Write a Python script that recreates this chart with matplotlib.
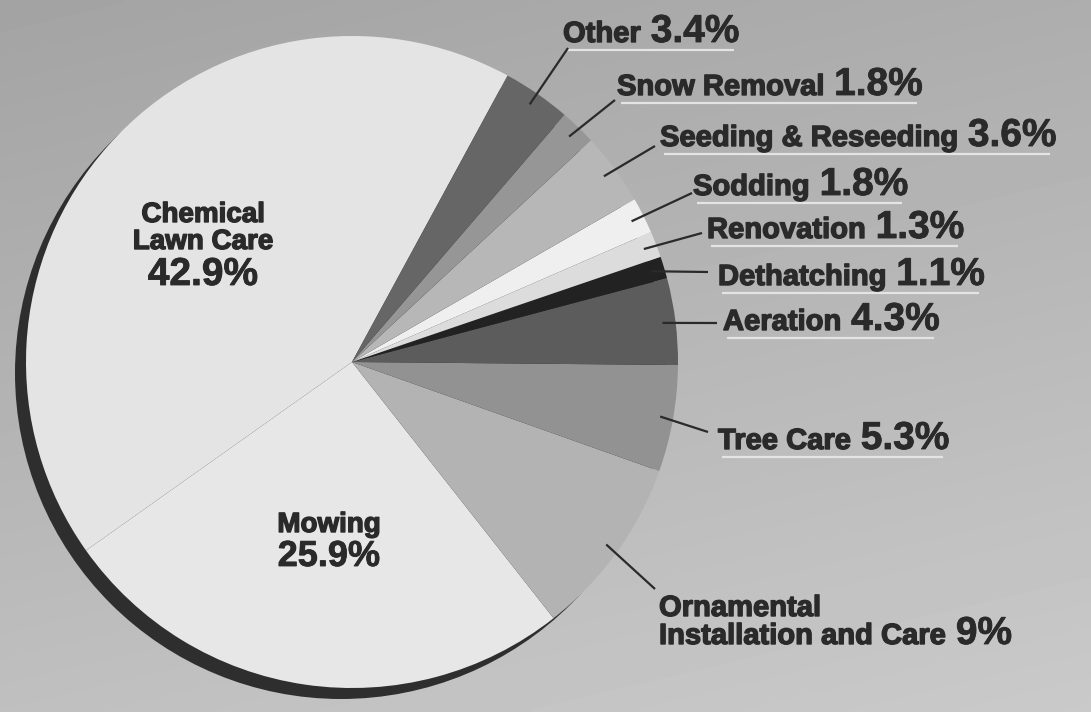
import numpy as np
import matplotlib
matplotlib.use("Agg")
import matplotlib.pyplot as plt
import matplotlib.patheffects as pe
from matplotlib.patches import Circle

# shares of landscape services (percent)
services = ['Chemical\nLawn Care', 'Mowing', 'Ornamental\nInstallation and Care',
            'Tree Care', 'Aeration', 'Dethatching', 'Renovation', 'Sodding',
            'Seeding & Reseeding', 'Snow Removal', 'Other']
shares = [42.9, 25.9, 9, 5.3, 4.3, 1.1, 1.3, 1.8, 3.6, 1.8, 3.4]
greys = ['#e4e4e4', '#e7e7e7', '#b3b3b3', '#929292', '#5c5c5c', '#222222',
         '#dcdcdc', '#efefef', '#b7b7b7', '#969696', '#666666']

W, H = 1091, 712
ink = '#2a2a2a'
font = 'Liberation Sans'
heavy = [pe.withStroke(linewidth=1.0, foreground=ink)]
semi = [pe.withStroke(linewidth=0.6, foreground=ink)]


def Y(y):
    # page coordinates are measured from the top
    return H - y


fig = plt.figure(figsize=(W / 100, H / 100), dpi=100)
ax = fig.add_axes([0, 0, 1, 1])

# paper background, a little lighter towards the bottom right
xx, yy = np.meshgrid(np.linspace(0, 1, 200), np.linspace(0, 1, 130))
paper = 0.64 + 0.04 * xx + 0.11 * yy
ax.imshow(paper, cmap='gray', vmin=0, vmax=1, extent=[0, W, 0, H],
          origin='upper', interpolation='bilinear', zorder=0, aspect='auto')

cx, cy, R = 352, Y(362), 326
start = 61.5

# dark edge of the disc
ax.add_patch(Circle((cx - 11, cy - 11), R, color='#2e2e2e', lw=0, zorder=1))

wedges, _ = ax.pie(shares, colors=greys, startangle=start, counterclock=True,
                   radius=R, center=(cx, cy),
                   wedgeprops=dict(linewidth=0, zorder=2))

ax.set_xlim(0, W)
ax.set_ylim(0, H)
ax.set_aspect('auto')
ax.axis('off')

pct = [f'{v:g}%' for v in shares]


def label(x, y, s, size, effect, ha='left'):
    return ax.text(x, Y(y), s, ha=ha, va='baseline', fontsize=size,
                   fontweight='bold', family=font, color=ink, zorder=5,
                   path_effects=effect)


# big labels sitting inside the pie
label(203, 222, 'Chemical', 20, heavy, 'center')
label(203, 249, 'Lawn Care', 20, heavy, 'center')
label(203, 285, pct[0], 28, semi, 'center')
label(329, 532, services[1], 20, heavy, 'center')
label(329, 566, pct[1], 26, semi, 'center')

# outside labels: index, text x, baseline y, leader end
outside = [
    (10, 563, 42, (568, 48)),
    (9, 617, 95, (615, 100)),
    (8, 660, 146, (655, 146)),
    (7, 693, 195, (692, 193)),
    (6, 707, 238, (702, 233)),
    (5, 718, 285, (708, 272)),
    (4, 723, 330, (717, 323)),
    (3, 718, 449, (708, 432)),
]

renderer = fig.canvas.get_renderer()
total = sum(shares)
cum = np.cumsum([0] + shares)


def leader(i, end):
    mid = np.deg2rad(start + (cum[i] + cum[i + 1]) / 2 / total * 360)
    x0 = cx + 0.96 * R * np.cos(mid)
    y0 = cy + 0.96 * R * np.sin(mid)
    ax.plot([x0, end[0]], [y0, Y(end[1])], color=ink, lw=1.6,
            solid_capstyle='butt', zorder=4)


for i, x, base, end in outside:
    t = label(x, base, services[i], 21, heavy)
    bb = t.get_window_extent(renderer)
    n = label(bb.x1 + 10, base, pct[i], 28, semi)
    nb = n.get_window_extent(renderer)
    ax.plot([x + 4, nb.x1 - 6], [Y(base + 8)] * 2, color='#e4e4e4', lw=1.6,
            solid_capstyle='butt', zorder=3)
    leader(i, end)

# two-line ornamental label
label(659, 616, 'Ornamental', 21, heavy)
t = label(659, 644, 'Installation and Care', 21, heavy)
bb = t.get_window_extent(renderer)
label(bb.x1 + 10, 644, pct[2], 28, semi)
leader(2, (655, 589))

fig.savefig('out.png', dpi=100)
